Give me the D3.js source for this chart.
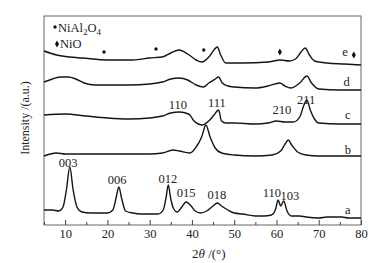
<!DOCTYPE html>
<html>
<head>
<meta charset="utf-8">
<script src="https://cdn.jsdelivr.net/npm/d3@7"></script>
<style>
  body { margin: 0; background: #fff; }
  svg text { font-family: "Liberation Serif", "Times New Roman", serif; fill: #222; }
</style>
</head>
<body>
<div id="chart"></div>
<script>
// intensity (a.u., already offset) vs 2theta for each pattern
const patternA = [[5,15],[7,15],[8.5,14],[9.5,18],[10.3,35],[11.1,58],[11.9,35],[12.8,18],[14,13],[16,12],[18,12],[20,12],[21.3,15],[22.1,28],[22.7,38],[23.4,26],[24.3,14],[26,12],[28,11],[30,11],[32,11],[33.2,15],[33.9,28],[34.4,40],[35,26],[35.7,16],[36.5,13],[37.6,18],[38.6,23],[39.6,20],[40.8,14],[42,12],[43.5,14],[45,19],[46,22],[47,19],[48.5,15],[50,12],[52,11],[55,9],[57,9],[58.8,10],[59.8,16],[60.4,25],[61,19],[61.7,24],[62.5,14],[63.5,9],[65.5,9],[67,8],[70,7],[72,8],[74,8],[75.5,8],[77,7],[80,7]];
const patternB = [[5,69],[6.5,71],[8,72],[10,71],[15,71],[20,71],[25,71],[30,71],[33,72],[35.5,75],[37,74],[39.5,72],[41,78],[42.3,88],[43.3,100],[44.3,88],[45.5,77],[47,72],[50,70],[55,69],[59,70],[61,74],[62.2,82],[62.8,85],[63.6,80],[65,73],[67,70],[70,69],[75,69],[80,69]];
const patternC = [[5,110],[10,111],[15,109],[20,107],[25,106],[30,107],[33,109],[35,112],[37,113],[38.5,112],[39.5,110],[40.5,104],[41.5,101],[42.5,100],[44,104],[45.2,110],[46.3,115],[47,104],[48,102],[50,102],[55,101],[58,102],[60,104],[62,103],[64,103],[65.5,108],[66.5,120],[67.2,125],[68,115],[69,106],[70,102],[75,101],[80,101]];
const patternD = [[5,143],[7,146],[9,148],[10.8,148],[12.5,146],[14.5,142],[17,140],[20,140],[25,140],[30,141],[33,143],[35,146],[37,147],[39,145],[41,140],[42.7,138],[44,142],[45.5,146],[46.3,148],[47.2,142],[48.5,139],[50,138],[55,137],[58,139],[60.8,142],[62,139],[63.5,137],[65.5,142],[67.2,149],[68.3,142],[70,136],[75,135],[80,135]];
const patternE = [[5,174],[8,170],[11,168],[14,167],[20,165],[26,165],[30,167],[33,168],[35,172],[37,175],[39,171],[41,165],[42.3,163],[44,168],[45.2,175],[46,178],[46.8,170],[48,162],[52,162],[58,163],[61,165],[63,164],[64.5,166],[65.8,173],[66.8,177],[67.8,170],[69,164],[72,162],[76,161],[80,160]];

const seriesNames = ["a", "b", "c", "d", "e"];
const seriesLabelPos = [[76.9,15],[76.9,75],[76.9,110],[76.6,143],[76.2,173]];

const peakLabels = [["003",10.7,62],["006",22.3,45],["012",34.3,46],["015",38.6,32],["018",45.9,30],["110",58.9,32],["103",63.2,29],
                    ["110",36.7,120],["111",45.9,122],["210",61.3,115],["211",67.0,125]];

const spinelMarks = [[19.2,173],[31.5,176],[42.8,175]];
const nioMarks = [[60.8,173],[78.3,170]];

const xTicks = [10,20,30,40,50,60,70,80];
const xMinorTicks = [5,15,25,35,45,55,65,75];

const W = 384, H = 263;
const margin = { top: 16, right: 23, bottom: 38, left: 44 };
const width = W - margin.left - margin.right;
const height = H - margin.top - margin.bottom;

const svg = d3.select("#chart").append("svg")
    .attr("width", W).attr("height", H)
    .append("g")
    .attr("transform", `translate(${margin.left},${margin.top})`);

const x = d3.scaleLinear().domain([5, 80]).range([0, width]);
const y = d3.scaleLinear().domain([0, 209]).range([height, 0]);

// frame
svg.append("rect")
    .attr("width", width).attr("height", height)
    .attr("fill", "none").attr("stroke", "#666").attr("stroke-width", 1);

const xAxis = svg.append("g")
    .attr("transform", `translate(0,${height})`)
    .call(d3.axisBottom(x).tickValues(xTicks).tickSizeInner(-5).tickSizeOuter(0).tickPadding(4));
xAxis.select(".domain").remove();
xAxis.selectAll("line").attr("stroke", "#444");
xAxis.selectAll("text").style("font-family", "Liberation Serif").style("font-size", "12.5px").attr("fill", "#222");

const xMinor = svg.append("g")
    .attr("transform", `translate(0,${height})`)
    .call(d3.axisBottom(x).tickValues(xMinorTicks).tickSizeInner(-3).tickSizeOuter(0).tickFormat(""));
xMinor.select(".domain").remove();
xMinor.selectAll("line").attr("stroke", "#444");

const line = d3.line()
    .x(d => x(d[0]))
    .y(d => y(d[1]))
    .curve(d3.curveMonotoneX);

[patternA, patternB, patternC, patternD, patternE].forEach(p => {
    svg.append("path")
        .datum(p)
        .attr("d", line)
        .attr("fill", "none")
        .attr("stroke", "#151515")
        .attr("stroke-width", 1.4);
});

svg.selectAll(".series-label")
    .data(seriesNames)
    .enter().append("text")
    .attr("x", (d, i) => x(seriesLabelPos[i][0]))
    .attr("y", (d, i) => y(seriesLabelPos[i][1]))
    .attr("dy", "0.35em")
    .attr("text-anchor", "middle")
    .style("font-size", "12.5px")
    .text(d => d);

svg.selectAll(".peak-label")
    .data(peakLabels)
    .enter().append("text")
    .attr("x", d => x(d[1]))
    .attr("y", d => y(d[2]))
    .attr("dy", "0.35em")
    .attr("text-anchor", "middle")
    .style("font-size", "12.5px")
    .text(d => d[0]);

svg.selectAll(".spinel")
    .data(spinelMarks)
    .enter().append("path")
    .attr("transform", d => `translate(${x(d[0])},${y(d[1])})`)
    .attr("d", d3.symbol(d3.symbolCircle, 9))
    .attr("fill", "#111");

svg.selectAll(".nio")
    .data(nioMarks)
    .enter().append("path")
    .attr("transform", d => `translate(${x(d[0])},${y(d[1])})`)
    .attr("d", d3.symbol(d3.symbolDiamond, 14))
    .attr("fill", "#111");

// legend
const legend = svg.append("g").attr("transform", "translate(11,0)");
legend.append("path")
    .attr("transform", "translate(0,11)")
    .attr("d", d3.symbol(d3.symbolCircle, 9))
    .attr("fill", "#111");
const t1 = legend.append("text").attr("x", 3).attr("y", 16).style("font-size", "12.5px");
t1.append("tspan").text("NiAl");
t1.append("tspan").attr("dy", 3).style("font-size", "9px").text("2");
t1.append("tspan").attr("dy", -3).text("O");
t1.append("tspan").attr("dy", 3).style("font-size", "9px").text("4");
legend.append("path")
    .attr("transform", "translate(2,28)")
    .attr("d", d3.symbol(d3.symbolDiamond, 14))
    .attr("fill", "#111");
legend.append("text").attr("x", 5).attr("y", 31.5).style("font-size", "12.5px").text("NiO");

// axis titles
const xt = svg.append("text")
    .attr("x", x(44)).attr("y", height + 33)
    .attr("text-anchor", "middle")
    .style("font-size", "13px");
xt.append("tspan").text("2");
xt.append("tspan").style("font-style", "italic").text("θ");
xt.append("tspan").text(" /(°)");

svg.append("text")
    .attr("transform", "rotate(-90)")
    .attr("x", -(118 - margin.top))
    .attr("y", -margin.left + 25)
    .attr("dy", "0.35em")
    .attr("text-anchor", "middle")
    .style("font-size", "12px")
    .text("Intensity /(a.u.)");
</script>
</body>
</html>
